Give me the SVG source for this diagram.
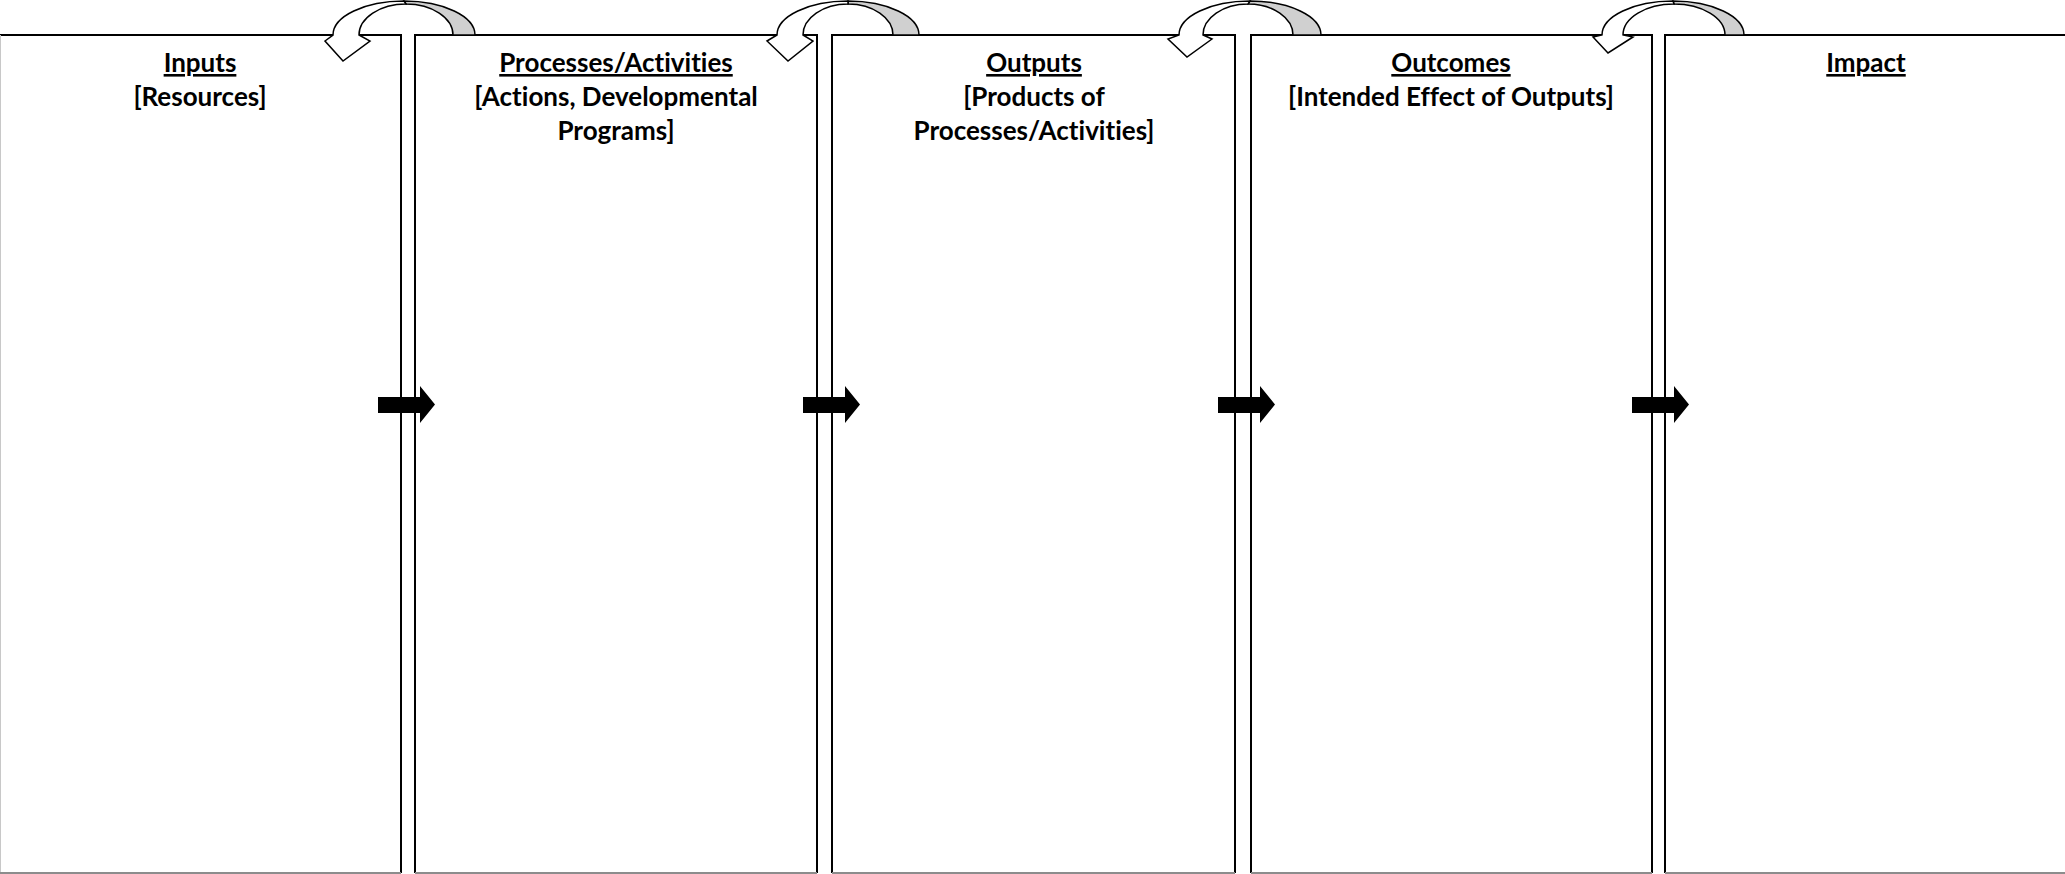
<svg xmlns="http://www.w3.org/2000/svg" xmlns:xlink="http://www.w3.org/1999/xlink" width="2065" height="874" viewBox="0 0 2065 874">
<style>
.box{fill:#fff;stroke:none}
.edge{stroke:#000;stroke-width:2;fill:none}
.bot{stroke:#8c8c8c;stroke-width:2;fill:none}
.t{font-family:Lato,"Liberation Sans",sans-serif;font-weight:bold;font-size:26px;fill:#000;text-anchor:middle;font-variant-ligatures:none}
.u{text-decoration:underline}
.cw{fill:#fff;stroke:#000;stroke-width:1.5;stroke-linejoin:miter}
.cg{fill:#d0d0d0;stroke:#000;stroke-width:1.5}
</style>
<defs>
<path id="blk" d="M378,397 H420 V386 L435,404.5 L420,423 V413 H378 Z" fill="#000"/>
</defs>
<rect width="2065" height="874" fill="#fff"/>
<g id="node-inputs">
<rect class="box" x="0" y="35" width="401" height="839"/>
<path class="edge" d="M0,35 H401 V873"/>
<path d="M0.5,35 V873" stroke="#c8c8c8" stroke-width="1"/>
<path class="bot" d="M0,873 H401"/>
<text class="t u" x="200" y="72">Inputs</text>
<text class="t" x="200" y="106">[Resources]</text>
</g>
<g id="node-processes">
<rect class="box" x="415" y="35" width="402" height="839"/>
<path class="edge" d="M415,873 V35 H817 V873"/>
<path class="bot" d="M415,873 H817"/>
<text class="t u" x="616" y="72">Processes/Activities</text>
<text class="t" x="616" y="106">[Actions, Developmental</text>
<text class="t" x="616" y="140">Programs]</text>
</g>
<g id="node-outputs">
<rect class="box" x="832" y="35" width="403" height="839"/>
<path class="edge" d="M832,873 V35 H1235 V873"/>
<path class="bot" d="M832,873 H1235"/>
<text class="t u" x="1034" y="72">Outputs</text>
<text class="t" x="1034" y="106">[Products of</text>
<text class="t" x="1034" y="140">Processes/Activities]</text>
</g>
<g id="node-outcomes">
<rect class="box" x="1251" y="35" width="401" height="839"/>
<path class="edge" d="M1251,873 V35 H1652 V873"/>
<path class="bot" d="M1251,873 H1652"/>
<text class="t u" x="1451" y="72">Outcomes</text>
<text class="t" x="1451" y="106">[Intended Effect of Outputs]</text>
</g>
<g id="node-impact">
<rect class="box" x="1665" y="35" width="402" height="839"/>
<path class="edge" d="M1665,873 V35 H2067"/>
<path class="bot" d="M1665,873 H2067"/>
<text class="t u" x="1866" y="72">Impact</text>
</g>
<g id="connectors">
<path class="cg" d="M404,1 A71 34 0 0 1 475,35 L453,35 A47 31 0 0 0 406,4 Z"/>
<path class="cw" d="M333,35 A71 34 0 0 1 404,1 L406,4 A47 31 0 0 0 359,35 L370,41 L343,61 L325,41 Z"/>
<path class="cg" d="M848,1 A71 34 0 0 1 919,35 L893,35 A45 31 0 0 0 848,4 Z"/>
<path class="cw" d="M777,35 A71 34 0 0 1 848,1 L848,4 A45 31 0 0 0 803,35 L813,41 L788,61 L767,41 Z"/>
<path class="cg" d="M1250,1 A71 34 0 0 1 1321,35 L1293,35 A45 31 0 0 0 1248,4 Z"/>
<path class="cw" d="M1179,35 A71 34 0 0 1 1250,1 L1248,4 A45 31 0 0 0 1203,35 L1212,39 L1187,57 L1168,39 Z"/>
<path class="cg" d="M1673,1 A71 34 0 0 1 1744,35 L1725,35 A51 31 0 0 0 1674,4 Z"/>
<path class="cw" d="M1602,35 A71 34 0 0 1 1673,1 L1674,4 A51 31 0 0 0 1623,35 L1633,37 L1608,53 L1593,37 Z"/>
<use xlink:href="#blk"/>
<use xlink:href="#blk" x="425"/>
<use xlink:href="#blk" x="840"/>
<use xlink:href="#blk" x="1254"/>
</g>
</svg>
